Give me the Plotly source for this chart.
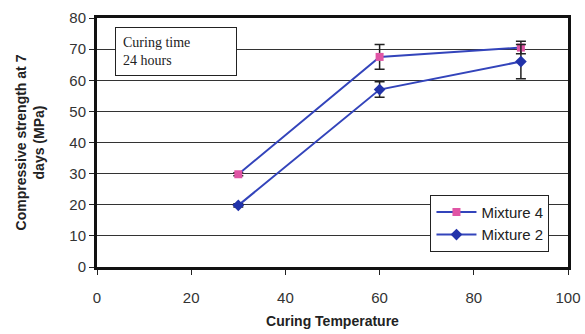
import plotly.graph_objects as go

temps = [30, 60, 90]
mix4 = [29.8, 67.5, 70.5]
mix4_err = [0.5, 4.0, 2.0]
mix2 = [19.8, 57.0, 66.0]
mix2_err = [0.5, 2.5, 5.5]

line_col = "#3344BB"
fig = go.Figure()
fig.add_trace(go.Scatter(
    x=temps, y=mix4, name="Mixture 4", mode="lines+markers",
    line=dict(color=line_col, width=2),
    marker=dict(symbol="square", size=8, color="#E055A5"),
    error_y=dict(type="data", array=mix4_err, visible=True, color="#222", thickness=1.5, width=5),
))
fig.add_trace(go.Scatter(
    x=temps, y=mix2, name="Mixture 2", mode="lines+markers",
    line=dict(color=line_col, width=2),
    marker=dict(symbol="diamond", size=9, color="#2233AA"),
    error_y=dict(type="data", array=mix2_err, visible=True, color="#222", thickness=1.5, width=5),
))

fig.update_layout(
    width=585, height=334,
    margin=dict(l=97, r=17, t=18, b=67),
    paper_bgcolor="white", plot_bgcolor="white",
    font=dict(family="Arial, Liberation Sans", size=15, color="#333"),
    showlegend=True,
    legend=dict(x=0.708, y=0.29, xanchor="left", yanchor="top",
                bgcolor="white", bordercolor="#222", borderwidth=1,
                font=dict(size=15, color="#222"), tracegroupgap=0,
                traceorder="normal", itemwidth=40),
    xaxis=dict(range=[0, 100], dtick=20, showgrid=False, zeroline=False, automargin=False,
               ticks="outside", ticklen=5, tickcolor="#222", ticklabelstandoff=10,
               showline=True, linecolor="#111", linewidth=3, mirror=True,
               title=dict(text="<b>Curing Temperature</b>", font=dict(size=14, color="#222"), standoff=12)),
    yaxis=dict(range=[0, 80], dtick=10, showgrid=True, gridcolor="#333", gridwidth=1,
               zeroline=False, automargin=False, ticks="outside", ticklen=5, tickcolor="#222",
               showline=True, linecolor="#111", linewidth=3, mirror=True,
               title=dict(text="<b>Compressive strength at 7<br>days (MPa)</b>", font=dict(size=14, color="#222"), standoff=22)),
)
fig.add_annotation(
    xref="paper", yref="paper", x=0.038, y=0.965, xanchor="left", yanchor="top",
    text="Curing time<br>24 hours", showarrow=False, align="left",
    font=dict(family="Liberation Serif, Times New Roman", size=14, color="#222"),
    bgcolor="white", bordercolor="#222", borderwidth=1, borderpad=7,
    width=106,
)
fig.write_html("out.html")
